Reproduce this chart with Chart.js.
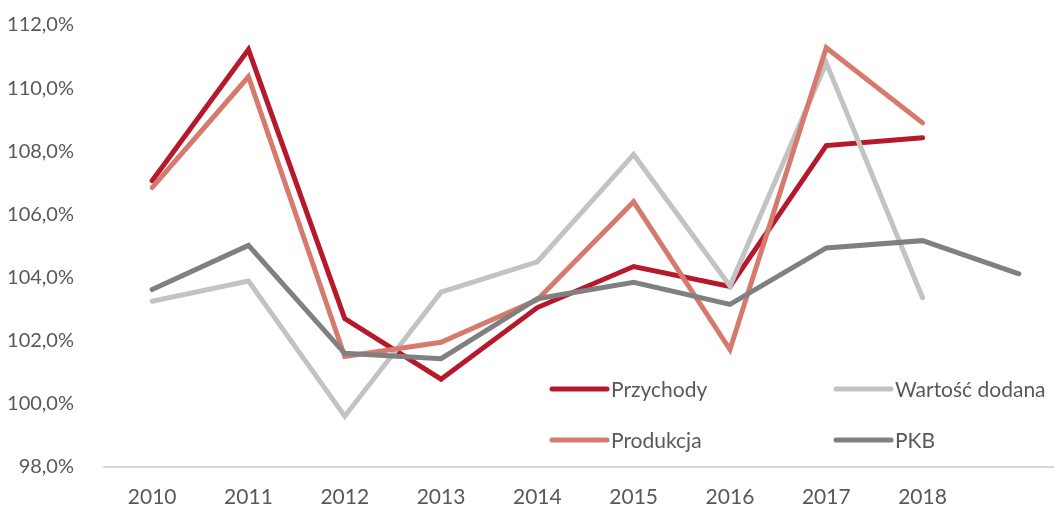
<!DOCTYPE html>
<html>
<head>
<meta charset="utf-8">
<script src="https://cdn.jsdelivr.net/npm/chart.js@4/dist/chart.umd.min.js"></script>
<style>
  html, body { margin: 0; padding: 0; background: #fff; overflow: hidden; }
  #wrap { width: 1067px; height: 506px; position: relative; }
</style>
</head>
<body>
<div id="wrap"><canvas id="chart"></canvas></div>
<script>
const years = ["2010", "2011", "2012", "2013", "2014", "2015", "2016", "2017", "2018", ""];
const przychody = [107.07, 111.22, 102.7, 100.78, 103.05, 104.35, 103.72, 108.18, 108.43, null];
const wartoscDodana = [103.25, 103.89, 99.61, 103.54, 104.5, 107.9, 103.73, 110.8, 103.36, null];
const produkcja = [106.85, 110.36, 101.5, 101.95, 103.3, 106.4, 101.72, 111.28, 108.9, null];
const pkb = [103.62, 105.02, 101.6, 101.43, 103.33, 103.85, 103.15, 104.94, 105.17, 104.12];
const yTicks = [98, 100, 102, 104, 106, 108, 110, 112];

const FONT = "Lato, 'Open Sans', sans-serif";
const TEXT = "#595959";

const series = [
  { label: "Przychody", data: przychody, color: "#B5192B", order: 3 },
  { label: "Wartość dodana", data: wartoscDodana, color: "#C3C3C3", order: 2 },
  { label: "Produkcja", data: produkcja, color: "#D67A6E", order: 1 },
  { label: "PKB", data: pkb, color: "#808080", order: 0 },
];

// legend drawn inside the plot, two columns like the original
const insideLegend = {
  id: "insideLegend",
  afterDraw(chart) {
    const ctx = chart.ctx;
    const cols = [552, 836];
    const rows = [389, 440];
    ctx.save();
    ctx.font = "21px " + FONT;
    ctx.textBaseline = "middle";
    ctx.fillStyle = TEXT;
    series.forEach((s, i) => {
      const x = cols[i % 2];
      const y = rows[Math.floor(i / 2)];
      ctx.strokeStyle = s.color;
      ctx.lineWidth = 5;
      ctx.lineCap = "round";
      ctx.beginPath();
      ctx.moveTo(x, y);
      ctx.lineTo(x + 55, y);
      ctx.stroke();
      ctx.fillText(s.label, x + 59, y + 1);
    });
    ctx.restore();
  },
};

new Chart(document.getElementById("chart"), {
  type: "line",
  data: {
    labels: years,
    datasets: series.map((s) => ({
      label: s.label,
      data: s.data,
      borderColor: s.color,
      backgroundColor: s.color,
      borderWidth: 5,
      borderCapStyle: "round",
      borderJoinStyle: "miter",
      pointRadius: 0,
      tension: 0,
      order: s.order,
    })),
  },
  options: {
    responsive: true,
    maintainAspectRatio: false,
    animation: false,
    layout: { padding: { top: 25, bottom: 0, left: 0, right: 0 } },
    plugins: { legend: { display: false }, tooltip: { enabled: false } },
    scales: {
      x: {
        offset: true,
        grid: { display: false },
        border: { color: "#D9D9D9", width: 2 },
        ticks: { color: TEXT, font: { family: FONT, size: 21 }, padding: 10, maxRotation: 0 },
        afterFit: (scale) => { scale.height = 39; scale.paddingLeft = 0; scale.paddingRight = 0; },
      },
      y: {
        min: 98,
        max: 112,
        afterBuildTicks: (scale) => { scale.ticks = yTicks.map((v) => ({ value: v })); },
        afterFit: (scale) => { scale.width = 104; scale.paddingTop = 0; scale.paddingBottom = 0; },
        grid: { display: false },
        border: { display: false },
        ticks: {
          color: TEXT,
          font: { family: FONT, size: 20 },
          padding: 22,
          callback: (v) => v.toFixed(1).replace(".", ",") + "%",
        },
      },
    },
  },
  plugins: [insideLegend],
});
</script>
</body>
</html>
